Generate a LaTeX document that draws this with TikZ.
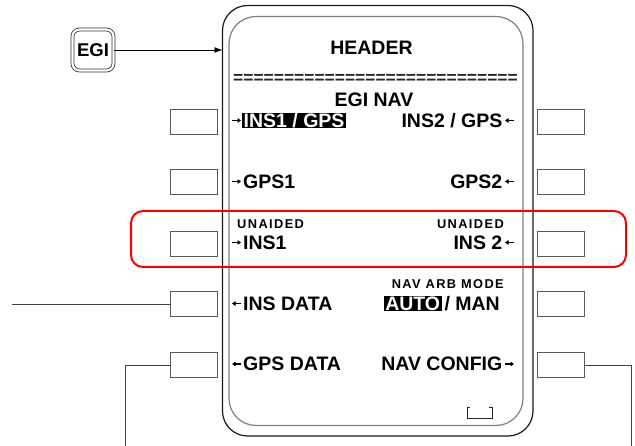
\documentclass[tikz,border=0pt]{standalone}
\usepackage{fontspec}
\setmainfont{Liberation Sans}
\newfontfamily\spacedfont[LetterSpace=11]{Liberation Sans}
\usetikzlibrary{arrows.meta}
\begin{document}
\begin{tikzpicture}[x=1pt,y=-1pt,
  softkey/.style={draw=black!65, line width=0.9pt, minimum width=47.5pt, minimum height=25pt, inner sep=0pt, outer sep=0pt},
  lbl/.style={font=\fontsize{19.5}{19.5}\selectfont\bfseries, inner sep=0pt},
  hl/.style={lbl, fill=black, text=white, inner xsep=1.5pt, inner ysep=0.8pt, text height=14pt, text depth=0pt},
  smalllbl/.style={font=\fontsize{12.8}{12.8}\spacedfont\bfseries, inner sep=0pt},
  tinyarrow/.style={line width=1.1pt, -{Triangle[length=3.5pt,width=4.5pt]}},
  wire/.style={draw=black!75, line width=0.9pt}
]
\useasboundingbox (0,0) rectangle (635,446);

% frames
\node[draw=black!90, line width=1.2pt, rounded corners=25pt, minimum width=310.5pt, minimum height=430.5pt, inner sep=0pt, outer sep=0pt] (frame) at (377.75,220.75) {};
\node[draw=black!50, line width=1.2pt, rounded corners=27pt, minimum width=294pt, minimum height=409pt, inner sep=0pt] (inner) at (376,221) {};

% EGI button
\node[draw=black!80, double, double distance=2.2pt, line width=0.8pt, rounded corners=7pt, minimum size=41pt, inner sep=0pt,
  font=\fontsize{18.5}{18.5}\selectfont\bfseries] (egi) at (93,50) {EGI};
\draw[line width=0.9pt, -{Latex[length=8pt,width=6pt]}] (egi.east) -- (egi.east -| frame.west);

% header
\node[lbl, anchor=base] (header) at (371.5,55) {HEADER};
\node[anchor=base, inner sep=0pt, font=\fontsize{17.4}{17.4}\selectfont\bfseries, text=black!85] (sep) at (375.5,83.5) {============================};
\node[lbl, anchor=base] (egnav) at (374,106.8) {EGI NAV};

% soft keys
\foreach \i/\y in {1/121.5,2/182,3/243.5,4/304,5/365}{
  \node[softkey] (lb\i) at (193.75,\y) {};
  \node[softkey] (rb\i) at (561,\y) {};
}

% left labels
\node[hl, anchor=base west] (l1) at (242,127.5) {INS1 / GPS};
\node[lbl, anchor=base west] (l2) at (243,188.5) {GPS1};
\node[smalllbl, anchor=base west] (l3s) at (237,229) {UNAIDED};
\node[lbl, anchor=base west] (l3) at (243,249.5) {INS1};
\node[lbl, anchor=base west] (l4) at (243,310.5) {INS DATA};
\node[lbl, anchor=base west] (l5) at (243,371) {GPS DATA};

\draw[tinyarrow] (232,120.5) -- (241,120.5);
\draw[tinyarrow] (232,181.5) -- (241,181.5);
\draw[tinyarrow] (232,242.5) -- (241,242.5);
\draw[tinyarrow] (241,303.5) -- (232,303.5);
\draw[tinyarrow] (241,364) -- (232,364);

% right labels
\node[lbl, anchor=base east] (r1) at (502.5,127.5) {INS2 / GPS};
\node[lbl, anchor=base east] (r2) at (502.5,188.5) {GPS2};
\node[smalllbl, anchor=base east] (r3s) at (504,229) {UNAIDED};
\node[lbl, anchor=base east] (r3) at (502.5,249.5) {INS 2};
\node[smalllbl, anchor=base east] (r4s) at (504,289) {NAV ARB MODE};
\node[lbl, anchor=base east] (r4b) at (500,310.5) {/ MAN};
\node[hl, anchor=base east] (r4a) at ([xshift=-2.5pt]r4b.base west) {AUTO};
\node[lbl, anchor=base east] (r5) at (502.5,371) {NAV CONFIG};

\draw[tinyarrow] (514,120.5) -- (505,120.5);
\draw[tinyarrow] (514,181.5) -- (505,181.5);
\draw[tinyarrow] (514,242.5) -- (505,242.5);
\draw[tinyarrow] (505,364) -- (514,364);

% bracket
\draw[line width=1pt, black!85] (470,408) -| (467,419) -| (492,408) -- (489,408);

% highlight box
\node[draw=red, line width=2pt, rounded corners=12pt, minimum width=495pt, minimum height=56pt, inner sep=0pt] (focus) at (378.5,239) {};

% external wires
\coordinate (l4end) at (12,304);
\coordinate (l5end) at (125,446);
\coordinate (r5end) at (631,446);
\draw[wire] (lb4.west) -- (l4end);
\draw[wire] (lb5.west) -| (l5end);
\draw[wire] (rb5.east) -| (r5end);
\end{tikzpicture}
\end{document}
